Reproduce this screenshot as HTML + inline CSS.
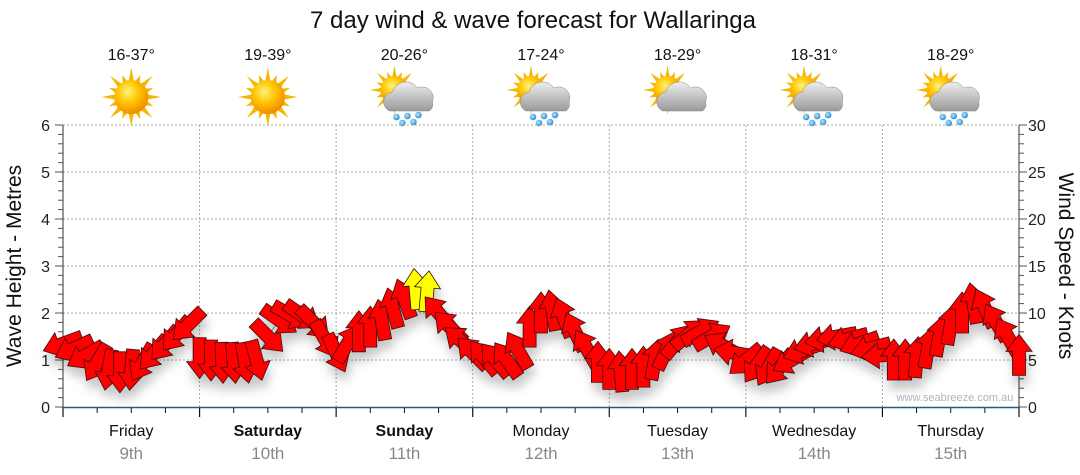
<!DOCTYPE html>
<html><head><meta charset="utf-8">
<style>
html,body{margin:0;padding:0;background:#fff;}
svg{display:block;font-family:"Liberation Sans",sans-serif;}
</style></head>
<body>
<svg id="chart" width="1080" height="475" viewBox="0 0 1080 475" xmlns="http://www.w3.org/2000/svg">
<defs>
<filter id="shadow" x="-50%" y="-50%" width="200%" height="200%">
<feDropShadow dx="2" dy="9" stdDeviation="5" flood-color="#000" flood-opacity="0.22"/>
</filter>
<radialGradient id="sunGrad" cx="40%" cy="35%" r="65%">
<stop offset="0" stop-color="#fff27a"/><stop offset="0.5" stop-color="#ffc400"/><stop offset="1" stop-color="#f08c00"/>
</radialGradient>
<linearGradient id="cloudGrad" x1="0" y1="0" x2="0" y2="1">
<stop offset="0" stop-color="#eeeeee"/><stop offset="1" stop-color="#9a9a9a"/>
</linearGradient>
<radialGradient id="dropGrad" cx="40%" cy="40%" r="60%">
<stop offset="0" stop-color="#bfe6ff"/><stop offset="1" stop-color="#2a8fd6"/>
</radialGradient>
</defs>
<text x="533" y="28" font-size="24" text-anchor="middle" fill="#111">7 day wind &amp; wave forecast for Wallaringa</text>
<g id="icons"></g>
<g id="grid"></g>
<g id="axes"></g>
<text x="955" y="401" font-size="11" text-anchor="middle" fill="#a9b4c0">www.seabreeze.com.au</text>
<path id="waveline" fill="none" stroke="#999" stroke-width="1"/>
<g id="arrows" filter="url(#shadow)"></g>
<text transform="translate(21,266) rotate(-90)" font-size="21" text-anchor="middle" fill="#111">Wave Height - Metres</text>
<text transform="translate(1059,266) rotate(90)" font-size="21" text-anchor="middle" fill="#111">Wind Speed - Knots</text>
</svg>
<script>
const days = ["Friday","Saturday","Sunday","Monday","Tuesday","Wednesday","Thursday"];
const dates = ["9th","10th","11th","12th","13th","14th","15th"];
const boldDays = [false,true,true,false,false,false,false];
const temps = ["16-37°","19-39°","20-26°","17-24°","18-29°","18-31°","18-29°"];
const iconTypes = ["sun","sun","rain","rain","cloud","rain","rain"];
const waveTicks = [0,1,2,3,4,5,6];
const windTicks = [0,5,10,15,20,25,30];
// 2-hourly samples from Friday 00:00
const hours = [0,2,4,6,8,10,12,14,16,18,20,22,24,26,28,30,32,34,36,38,40,42,44,46,48,50,52,54,56,58,60,62,64,66,68,70,72,74,76,78,80,82,84,86,88,90,92,94,96,98,100,102,104,106,108,110,112,114,116,118,120,122,124,126,128,130,132,134,136,138,140,142,144,146,148,150,152,154,156,158,160,162,164,166,168];
const waveHeight = [1.35,1.25,1.1,0.95,0.8,0.75,0.8,0.95,1.15,1.35,1.55,1.75,1.05,1.0,0.95,0.95,0.95,1.0,1.5,1.85,1.95,1.95,1.8,1.45,1.15,1.35,1.6,1.7,1.85,2.1,2.3,2.5,2.45,2.0,1.7,1.4,1.15,1.05,1.0,1.0,1.2,1.7,2.0,2.05,1.9,1.6,1.25,0.95,0.8,0.75,0.8,0.85,1.0,1.2,1.4,1.55,1.6,1.5,1.3,1.15,1.0,0.9,0.85,0.85,1.0,1.2,1.35,1.45,1.5,1.45,1.35,1.25,1.1,1.0,1.0,1.05,1.25,1.5,1.75,2.0,2.2,2.1,1.8,1.5,1.1];
const windDir = [250,245,240,210,190,180,185,210,220,220,220,225,180,180,178,175,170,165,135,125,120,125,135,150,155,30,0,0,350,345,340,355,5,320,315,310,315,320,320,325,330,0,0,350,340,335,330,0,0,355,0,0,10,25,40,50,60,60,300,280,230,215,210,220,240,250,255,260,260,255,250,255,265,0,0,5,10,10,10,0,350,335,330,330,0];
const windSpeed = [14,14,13,13,14,14,15,15,16,16,16,16,15,15,14,14,14,15,15,16,16,16,15,15,14,15,15,16,16,17,17,11,11,17,16,16,15,15,14,14,15,15,16,16,16,15,15,14,14,14,14,14,15,15,16,16,16,16,15,15,14,14,14,14,15,15,15,16,16,16,15,15,14,14,14,14,15,15,16,16,17,17,16,16,15];

const NS="http://www.w3.org/2000/svg";
const X0=63, X1=1019, Y0=407, YTOP=125;
const xScale = h => X0 + h*(X1-X0)/168;
const yWave = v => Y0 - v*(Y0-YTOP)/6;
const yWind = v => Y0 - v*(Y0-YTOP)/30;
function mk(tag, attrs, parent){const e=document.createElementNS(NS,tag);for(const k in attrs)e.setAttribute(k,attrs[k]);parent.appendChild(e);return e;}

const grid=document.getElementById('grid'), axes=document.getElementById('axes');
waveTicks.forEach(v=>{
  if(v>0){const l=mk('line',{x1:X0,x2:X1,y1:yWave(v),y2:yWave(v),stroke:'#aaa','stroke-dasharray':'2,2'},grid);
  
  }
  const t=mk('text',{x:50,y:yWave(v)+6,'font-size':16,'text-anchor':'end',fill:'#222'},axes);t.textContent=v;
  
  
});
windTicks.forEach(v=>{
  const t=mk('text',{x:1028,y:yWind(v)+6,'font-size':16,fill:'#222'},axes);t.textContent=v;
  
  
});
for(let k=0;k<=30;k++){const y=yWind(k);const len=(k%5==0)?8:5;
  mk('line',{x1:X1,x2:X1+len,y1:y,y2:y,stroke:'#555'},axes);
  mk('line',{x1:X0,x2:X0-len,y1:y,y2:y,stroke:'#555'},axes);}
mk('line',{x1:X0,x2:X0,y1:YTOP,y2:Y0,stroke:'#333'},axes);
mk('line',{x1:X1,x2:X1,y1:YTOP,y2:Y0,stroke:'#333'},axes);
for(let d=0;d<=7;d++){const x=xScale(d*24);
  if(d>0&&d<7){const l=mk('line',{x1:x,x2:x,y1:YTOP,y2:Y0,stroke:'#aaa','stroke-dasharray':'2,2'},grid);
  
  }
  mk('line',{x1:x,x2:x,y1:Y0,y2:Y0+10,stroke:'#111','stroke-width':1.2},axes);
  if(d<7){for(let q=1;q<4;q++){const xx=xScale(d*24+q*6);mk('line',{x1:xx,x2:xx,y1:Y0,y2:Y0+6,stroke:'#111'},axes);}
    const xc=xScale(d*24+12);
    const t=mk('text',{x:xc,y:436,'font-size':16,'text-anchor':'middle',fill:'#111','font-weight':boldDays[d]?'bold':'normal'},axes);t.textContent=days[d];
    
    
    const t2=mk('text',{x:xc,y:459,'font-size':17,'text-anchor':'middle',fill:'#888'},axes);t2.textContent=dates[d];
    
    
  }
}
mk('line',{x1:X0,x2:X1,y1:Y0+0.5,y2:Y0+0.5,stroke:'#1d5c85','stroke-width':1.5},axes);

// icons
const icons=document.getElementById('icons');
function sun(g,cx,cy,r){
  for(let i=0;i<16;i++){const a=i*Math.PI/8;const L=(i%2==0)?r*1.75:r*1.4;
    const w=0.18;
    const p=[[cx+Math.cos(a)*L,cy+Math.sin(a)*L],[cx+Math.cos(a+w)*r*0.9,cy+Math.sin(a+w)*r*0.9],[cx+Math.cos(a-w)*r*0.9,cy+Math.sin(a-w)*r*0.9]];
    mk('polygon',{points:p.map(q=>q.join(',')).join(' '),fill:'#f5b700'},g);}
  mk('circle',{cx:cx,cy:cy,r:r,fill:'url(#sunGrad)'},g);
}
function cloud(g,cx,cy){
  mk('path',{d:`M${cx-18},${cy+13} a10,10 0 0 1 3,-19 a14,14 0 0 1 25,-4 a11,11 0 0 1 15,14 a8,8 0 0 1 -3,9 z`,fill:'url(#cloudGrad)',stroke:'#888','stroke-width':0.5},g);
}
function drops(g,cx,cy){
  [[-11,19],[0,18],[11,17],[-5,25],[6,24]].forEach(p=>mk('circle',{cx:cx+p[0],cy:cy+p[1],r:3.3,fill:'url(#dropGrad)'},g));
}
temps.forEach((tp,d)=>{
  const xc=xScale(d*24+12);
  const t=mk('text',{x:xc,y:60,'font-size':16,'text-anchor':'middle',fill:'#111'},icons);t.textContent=tp;
  
  
  const g=mk('g',{},icons);
  
  
  if(iconTypes[d]==='sun'){sun(g,xc,97,17);}
  else{sun(g,xc-10,90,14);cloud(g,xc+3,98);if(iconTypes[d]==='rain')drops(g,xc+3,98);}
});

// wave line
let dstr='';hours.forEach((h,i)=>{dstr+=(i?'L':'M')+xScale(h).toFixed(1)+','+yWave(waveHeight[i]).toFixed(1);});
document.getElementById('waveline').setAttribute('d',dstr);

// arrows
const ag=document.getElementById('arrows');
const shape="M0,-21 L13,-4 L6.5,-4 L6.5,20 L-6.5,20 L-6.5,-4 L-13,-4 Z";
hours.forEach((h,i)=>{
  const x=xScale(h), y=yWave(waveHeight[i]);
  const a=mk('path',{d:shape,transform:`translate(${x.toFixed(1)},${y.toFixed(1)}) rotate(${windDir[i]})`,fill:windSpeed[i]<13?'#ffff00':'#ff0000',stroke:'#3a1010','stroke-width':0.8,'stroke-linejoin':'miter'},ag);
  
  
});
</script>
</body></html>
